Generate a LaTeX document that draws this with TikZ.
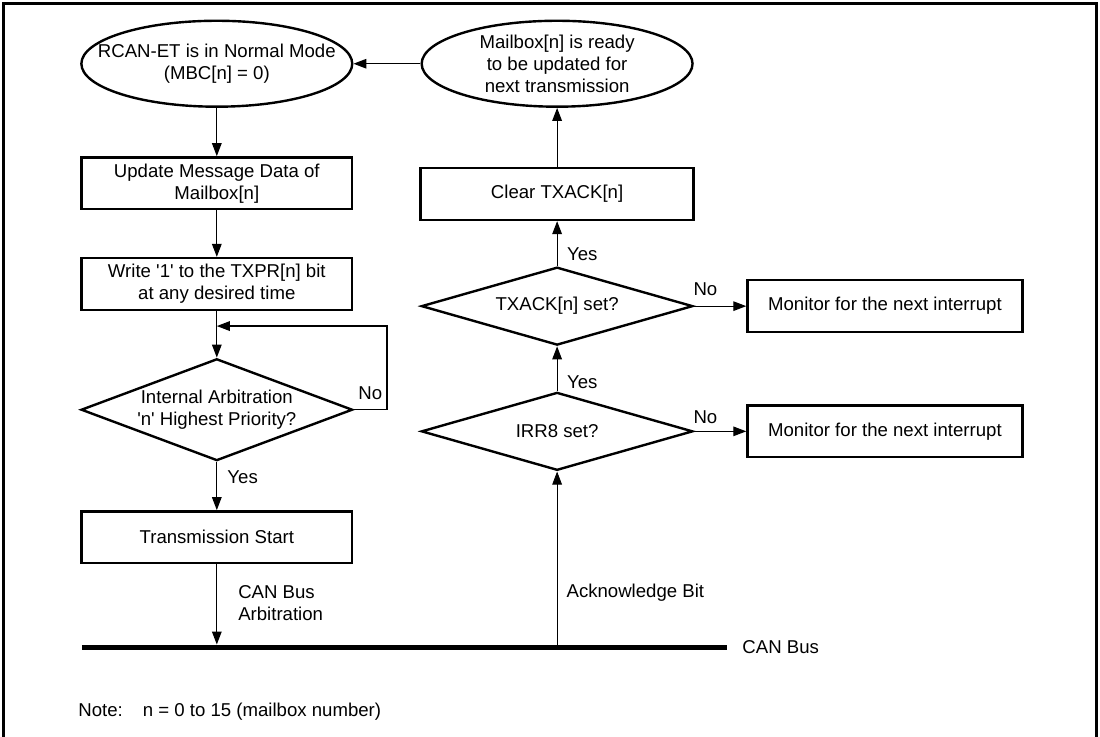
\documentclass[tikz,border=0pt]{standalone}
\usepackage{fontspec}
\setmainfont{Liberation Sans}
\usepackage{tikz}
\usetikzlibrary{arrows.meta, shapes.geometric}
\newcommand{\tq}{\textquotesingle}

\begin{document}
\begin{tikzpicture}[
  font=\fontsize{9.3pt}{11pt}\selectfont,
  >={Triangle[length=6.5pt, width=4.8pt]},
  box/.style={draw, very thick, align=center, inner sep=2pt,
              minimum width=#1, minimum height=0.91cm},
  box/.default=4.76cm,
  oval/.style={ellipse, draw, very thick, align=center, inner xsep=-14pt,
               inner ysep=0pt, minimum width=4.76cm, minimum height=1.51cm},
  decision/.style={diamond, draw, very thick, align=center, inner sep=0pt,
                   aspect=2.7, minimum width=4.77cm, minimum height=#1},
  tag/.style={anchor=west, inner sep=0pt},
  note/.style={align=left, anchor=west, inner sep=0pt},
]
  \useasboundingbox (0,0) rectangle (19.33,-12.934);
  \draw[line width=1.5pt] (0.07,-13.2) -- (0.07,-0.07) -- (19.26,-0.07) -- (19.26,-13.2);

  % --- transmit side (left) ----------------------------------------
  \node[oval] (rcan) at (3.81,-1.12) {RCAN-ET is in Normal Mode\\(MBC[n] = 0)};
  \node[box] (upd) at (3.81,-3.22) {Update Message Data of\\Mailbox[n]};
  \node[box] (wr) at (3.81,-4.99) {Write \tq1\tq{} to the TXPR[n] bit\\at any desired time};
  \node[decision=1.79cm] (arb) at (3.81,-7.20) {Internal Arbitration\\\tq n\tq{} Highest Priority?};
  \node[box] (ts) at (3.81,-9.44) {Transmission Start};

  \coordinate (loopc) at (6.80,-5.73);
  \coordinate (merge) at (3.81,-5.73);

  \draw[->, semithick] (rcan) -- (upd);
  \draw[->, semithick] (upd) -- (wr);
  \draw[->, semithick] (wr) -- (arb);
  \draw[->, semithick] (arb.east) -| (loopc) -- (merge);
  \draw[->, semithick] (arb) -- (ts);

  \node[tag] (no1) at (6.29,-6.91) {No};
  \node[tag] (yes1) at (3.99,-8.38) {Yes};

  % --- acknowledge side (right) ------------------------------------
  \node[oval] (ready) at (9.79,-1.12) {Mailbox[n] is ready\\to be updated for\\next transmission};
  \node[box=4.80cm] (clr) at (9.79,-3.41) {Clear TXACK[n]};
  \node[decision=1.37cm] (txack) at (9.79,-5.38) {TXACK[n] set?};
  \node[decision=1.37cm] (irr) at (9.79,-7.58) {IRR8 set?};
  \node[box=4.83cm] (mon1) at (15.55,-5.38) {Monitor for the next interrupt};
  \node[box=4.83cm] (mon2) at (15.55,-7.58) {Monitor for the next interrupt};

  \draw[->, semithick] (irr) -- (txack);
  \draw[->, semithick] (txack) -- (clr);
  \draw[->, semithick] (clr) -- (ready);
  \draw[->, semithick] (ready) -- (rcan);
  \draw[->, semithick] (txack) -- (mon1);
  \draw[->, semithick] (irr) -- (mon2);

  \node[tag] (yes2) at (9.96,-4.46) {Yes};
  \node[tag] (yes3) at (9.96,-6.71) {Yes};
  \node[tag] (no2) at (12.18,-5.08) {No};
  \node[tag] (no3) at (12.18,-7.33) {No};

  % --- CAN bus -----------------------------------------------------
  \coordinate (busL) at (1.44,-11.37);
  \coordinate (busR) at (12.78,-11.37);
  \coordinate (busarb) at (3.81,-11.37);
  \coordinate (busack) at (9.79,-11.37);

  \draw[line width=2.5pt] (busL) -- (busR);
  \draw[->, semithick, shorten >=1.25pt] (ts) -- (busarb);
  \draw[->, thin] (busack) -- (irr);

  \node[note] (arbtxt) at (4.18,-10.60) {CAN Bus\\Arbitration};
  \node[note] (acktxt) at (9.95,-10.42) {Acknowledge Bit};
  \node[note] (bustxt) at (13.04,-11.37) {CAN Bus};
  \node[note] (nmax) at (1.37,-12.51) {Note:\hspace{10pt}n = 0 to 15 (mailbox number)};
\end{tikzpicture}
\end{document}
